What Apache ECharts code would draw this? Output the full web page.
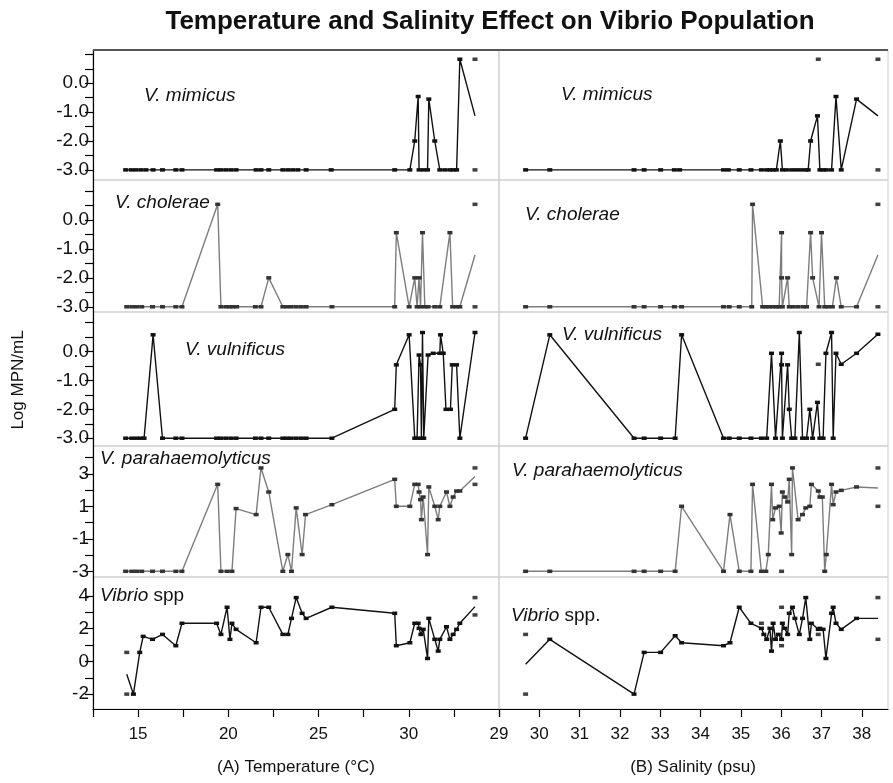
<!DOCTYPE html>
<html><head><meta charset="utf-8">
<script src="https://cdn.jsdelivr.net/npm/echarts@6/dist/echarts.min.js"></script>
<style>html,body{margin:0;padding:0;background:#fff}#c{width:893px;height:783px}</style>
</head><body><div id="c"></div>
<script>
// ---------- DATA ----------
const titleText = 'Temperature and Salinity Effect on Vibrio Population';
const yAxisTitle = 'Log MPN/mL';
const xTitleTemp = '(A) Temperature (°C)';
const xTitleSal = '(B) Salinity (psu)';
const speciesNames = ['V. mimicus', 'V. cholerae', 'V. vulnificus', 'V. parahaemolyticus', 'Vibrio'];

const tempTicks = [12.5, 15, 17.5, 20, 22.5, 25, 27.5, 30, 32.5, 35];
const tempLabels = [15, 20, 25, 30];
const salTicks = [29, 30, 31, 32, 33, 34, 35, 36, 37, 38];
const salLabels = [29, 30, 31, 32, 33, 34, 35, 36, 37, 38];
const yTicksLog = [-3, -2.5, -2, -1.5, -1, -0.5, 0, 0.5, 1];
const yLabelsLog = [-3, -2, -1, 0];
const yTicksPara = [-3, -2, -1, 0, 1, 2, 3, 4];
const yLabelsPara = [-3, -1, 1, 3];
const yTicksSpp = [-2, -1, 0, 1, 2, 3, 4];
const yLabelsSpp = [-2, 0, 2, 4];

// V. mimicus
const mimicusTemp = [[14.31,-3],[14.62,-3],[14.87,-3],[15.15,-3],[15.43,-3],[15.83,-3],[16.35,-3],[17.09,-3],[17.43,-3],[19.35,-3],[19.59,-3],[19.87,-3],[20.15,-3],[20.43,-3],[21.54,-3],[21.81,-3],[22.24,-3],[23.02,-3],[23.30,-3],[23.57,-3],[23.85,-3],[24.31,-3],[25.70,-3],[29.22,-3],[30.06,-3],[30.33,-2],[30.52,-0.46],[30.57,-3],[30.80,-3],[31.04,-3],[31.11,-0.55],[31.44,-2],[31.72,-3],[32.0,-3],[32.28,-3],[32.46,-3],[32.65,-3],[32.83,0.83],[33.67,-1.13]];
const mimicusTempExtra = [[33.67,0.83],[33.67,-3]];
const mimicusSal = [[29.66,-3],[30.26,-3],[32.35,-3],[32.60,-3],[33.01,-3],[33.35,-3],[33.48,-3],[34.57,-3],[34.69,-3],[34.96,-3],[35.25,-3],[35.51,-3],[35.64,-3],[35.72,-3],[35.80,-3],[35.88,-3],[35.98,-2],[36.03,-3],[36.13,-3],[36.26,-3],[36.38,-3],[36.50,-3],[36.61,-3],[36.67,-3],[36.73,-2],[36.90,-1.13],[36.96,-3],[37.04,-3],[37.12,-3],[37.25,-3],[37.36,-0.46],[37.49,-3],[37.87,-0.55],[38.40,-1.13]];
const mimicusSalExtra = [[36.92,0.83],[38.40,0.83],[38.40,-3]];

// V. cholerae
const choleraeTemp = [[14.37,-3],[14.65,-3],[14.91,-3],[15.20,-3],[15.80,-3],[16.35,-3],[17.09,-3],[17.43,-3],[19.41,0.54],[19.59,-3],[19.87,-3],[20.06,-3],[20.24,-3],[20.46,-3],[21.50,-3],[21.81,-3],[22.24,-2],[23.02,-3],[23.24,-3],[23.48,-3],[23.76,-3],[24.04,-3],[24.31,-3],[25.74,-3],[29.22,-3],[29.31,-0.44],[30.02,-3],[30.33,-2],[30.46,-3],[30.57,-2],[30.65,-3],[30.76,-0.44],[30.89,-3],[31.07,-3],[31.44,-3],[31.72,-3],[32.28,-0.44],[32.43,-3],[32.65,-3],[32.83,-3],[33.67,-1.21]];
const choleraeTempExtra = [[33.67,0.54],[33.67,-3]];
const choleraeSal = [[29.66,-3],[30.26,-3],[32.35,-3],[32.60,-3],[33.01,-3],[33.35,-3],[33.53,-3],[34.57,-3],[34.71,-3],[34.96,-3],[35.27,-3],[35.29,0.54],[35.54,-3],[35.62,-3],[35.70,-3],[35.79,-3],[35.88,-3],[35.95,-3],[36.01,-0.44],[36.01,-2],[36.03,-3],[36.16,-2],[36.20,-3],[36.30,-3],[36.42,-3],[36.55,-3],[36.63,-3],[36.73,-0.44],[36.78,-2],[36.94,-3],[37.0,-0.44],[37.08,-3],[37.16,-3],[37.27,-3],[37.37,-2],[37.49,-3],[37.87,-3],[38.40,-1.21]];
const choleraeSalExtra = [[38.40,0.54],[38.40,-3]];

// V. vulnificus
const vulnificusTemp = [[14.31,-3],[14.65,-3],[14.91,-3],[15.15,-3],[15.33,-3],[15.83,0.58],[16.35,-3],[17.09,-3],[17.43,-3],[19.35,-3],[19.59,-3],[19.87,-3],[20.15,-3],[20.43,-3],[21.50,-3],[21.81,-3],[22.24,-3],[23.02,-3],[23.24,-3],[23.48,-3],[23.76,-3],[24.04,-3],[24.31,-3],[25.74,-3],[29.22,-2],[29.31,-0.46],[30.02,0.58],[30.33,-3],[30.46,-3],[30.57,-0.12],[30.65,-0.46],[30.70,-3],[30.76,0.66],[30.83,-3],[31.07,-0.12],[31.35,-0.06],[31.72,-0.06],[31.76,0.58],[31.91,-0.06],[32.06,-2],[32.31,-2],[32.41,-0.46],[32.65,-0.46],[32.83,-3],[33.67,0.66]];
const vulnificusTempExtra = [];
const vulnificusSal = [[29.66,-3],[30.26,0.58],[32.35,-3],[32.60,-3],[33.01,-3],[33.37,-3],[33.53,0.58],[34.57,-3],[34.71,-3],[34.96,-3],[35.25,-3],[35.51,-3],[35.64,-3],[35.76,-0.06],[35.86,-3],[36.01,-0.06],[36.01,-0.46],[36.03,-3],[36.16,-0.46],[36.20,-2],[36.26,-3],[36.34,-3],[36.45,0.66],[36.53,-3],[36.63,-3],[36.71,-2],[36.78,-3],[36.90,-1.76],[36.96,-3],[37.04,-3],[37.11,-0.06],[37.25,0.66],[37.29,-3],[37.36,-0.06],[37.49,-0.44],[37.87,-0.06],[38.40,0.6]];
const vulnificusSalExtra = [[36.92,-0.44]];

// V. parahaemolyticus
const paraTemp = [[14.31,-3],[14.65,-3],[14.91,-3],[15.20,-3],[15.80,-3],[16.35,-3],[17.09,-3],[17.43,-3],[19.41,2.35],[19.59,-3],[19.93,-3],[20.20,-3],[20.43,0.86],[21.54,0.49],[21.81,3.36],[22.24,1.88],[23.02,-3],[23.30,-1.97],[23.50,-3],[23.76,0.90],[24.09,-1.97],[24.28,0.49],[25.74,1.10],[29.22,2.66],[29.31,1.0],[30.06,1.0],[30.33,2.35],[30.52,2.35],[30.57,1.88],[30.65,1.41],[30.70,0.18],[30.80,1.57],[31.04,-1.97],[31.11,2.19],[31.44,1.0],[31.63,0.18],[31.72,1.0],[32.09,1.88],[32.28,1.0],[32.46,1.57],[32.65,1.94],[32.83,1.94],[33.67,2.84]];
const paraTempExtra = [[33.67,3.36],[33.67,2.35]];
const paraSal = [[29.66,-3],[30.26,-3],[32.35,-3],[32.60,-3],[33.01,-3],[33.37,-3],[33.53,1.0],[34.57,-3],[34.73,0.49],[34.96,-3],[35.25,-3],[35.29,2.35],[35.51,-3],[35.62,-3],[35.68,-1.97],[35.76,2.35],[35.79,0.18],[35.86,0.90],[35.95,1.0],[36.00,-0.64],[36.03,1.88],[36.09,1.57],[36.16,1.27],[36.20,2.66],[36.26,-1.97],[36.28,3.36],[36.42,0.18],[36.53,0.49],[36.61,0.90],[36.71,1.0],[36.75,2.35],[36.92,1.94],[36.96,1.57],[37.02,1.57],[37.08,-3],[37.12,-1.97],[37.25,2.35],[37.29,1.10],[37.36,1.88],[37.49,1.98],[37.87,2.19],[38.40,2.13]];
const paraSalExtra = [[36.01,-3],[38.40,3.36],[38.40,1.0]];

// Vibrio spp
const sppTemp = [[14.37,-0.78],[14.74,-2.0],[15.09,0.55],[15.28,1.53],[15.80,1.35],[16.35,1.65],[17.09,0.96],[17.43,2.33],[19.35,2.33],[19.59,1.65],[19.93,3.31],[20.09,1.35],[20.20,2.33],[20.43,1.96],[21.54,1.14],[21.81,3.31],[22.24,3.31],[23.02,1.65],[23.30,1.65],[23.50,2.63],[23.76,3.90],[24.09,2.94],[24.31,2.63],[25.74,3.31],[29.22,2.94],[29.31,0.96],[30.06,1.14],[30.33,2.33],[30.52,2.33],[30.57,2.02],[30.67,1.65],[30.80,1.96],[31.04,0.18],[31.11,2.63],[31.44,1.35],[31.63,0.63],[31.72,1.35],[32.09,2.12],[32.28,1.35],[32.46,1.65],[32.65,1.96],[32.83,2.33],[33.67,3.35]];
const sppTempExtra = [[14.37,0.55],[14.37,-2.0],[33.67,3.90],[33.67,2.84]];
const sppSal = [[29.66,-0.18],[30.26,1.35],[32.35,-2.0],[32.60,0.55],[33.01,0.55],[33.37,1.57],[33.53,1.14],[34.57,0.96],[34.73,1.14],[34.96,3.31],[35.25,2.33],[35.51,2.02],[35.57,1.65],[35.64,1.35],[35.72,2.02],[35.76,0.63],[35.80,2.33],[35.86,1.35],[35.93,1.65],[36.01,1.35],[36.03,2.33],[36.09,2.02],[36.16,1.65],[36.20,2.94],[36.28,3.31],[36.34,2.63],[36.45,1.65],[36.53,2.63],[36.61,3.90],[36.71,1.35],[36.75,2.33],[36.92,1.96],[36.96,2.02],[37.04,1.96],[37.11,0.18],[37.25,2.94],[37.29,3.31],[37.36,2.33],[37.49,1.96],[37.87,2.63],[38.40,2.63]];
const sppSalExtra = [[29.66,1.65],[29.66,-2.0],[35.51,2.33],[36.01,3.31],[36.01,0.96],[36.92,1.65],[38.40,3.90],[38.40,1.35]];

// ---------- LAYOUT / STYLE ----------
const FONT = '"Liberation Sans", Arial, Helvetica, sans-serif';
const NARROW = '"Liberation Sans Narrow", "Arial Narrow", "Liberation Sans", Arial, sans-serif';
const colL = {left: 93, width: 406};
const colR = {left: 499, width: 389};
const rows = [
  {top: 50,  height: 130, min: -3.35, max: 1.15, ticks: yTicksLog,  labels: yLabelsLog,  fmt: v => v.toFixed(1), line: '#111', mark: '#111'},
  {top: 180, height: 132, min: -3.18, max: 1.38, ticks: yTicksLog,  labels: yLabelsLog,  fmt: v => v.toFixed(1), line: '#7d7d7d', mark: '#333'},
  {top: 312, height: 134, min: -3.27, max: 1.37, ticks: yTicksLog,  labels: yLabelsLog,  fmt: v => v.toFixed(1), line: '#111', mark: '#111'},
  {top: 446, height: 131, min: -3.35, max: 4.71, ticks: yTicksPara, labels: yLabelsPara, fmt: v => String(v), line: '#7d7d7d', mark: '#333'},
  {top: 577, height: 132, min: -2.91, max: 5.16, ticks: yTicksSpp,  labels: yLabelsSpp,  fmt: v => String(v), line: '#111', mark: '#111'}
];
const panels = [
  [{d: mimicusTemp, x: mimicusTempExtra, bareFirst: false, bareLast: true},  {d: mimicusSal, x: mimicusSalExtra, bareFirst: false, bareLast: true}],
  [{d: choleraeTemp, x: choleraeTempExtra, bareFirst: false, bareLast: true}, {d: choleraeSal, x: choleraeSalExtra, bareFirst: false, bareLast: true}],
  [{d: vulnificusTemp, x: vulnificusTempExtra, bareFirst: false, bareLast: false}, {d: vulnificusSal, x: vulnificusSalExtra, bareFirst: false, bareLast: false}],
  [{d: paraTemp, x: paraTempExtra, bareFirst: false, bareLast: true}, {d: paraSal, x: paraSalExtra, bareFirst: false, bareLast: true}],
  [{d: sppTemp, x: sppTempExtra, bareFirst: true, bareLast: true}, {d: sppSal, x: sppSalExtra, bareFirst: true, bareLast: true}]
];
const labelPos = [
  [[144, 96], [561, 95]],
  [[115, 203], [525, 215]],
  [[185, 350], [562, 335]],
  [[100, 459], [512, 471]],
  [[100, 596], [511, 616]]
];

const grid = [], xAxis = [], yAxis = [], series = [], graphic = [];
const MARK = [5, 3.5];

rows.forEach((r, ri) => {
  [colL, colR].forEach((c, ci) => {
    const gi = grid.length;
    grid.push({left: c.left, top: r.top, width: c.width, height: r.height, show: true,
      borderColor: '#cfcfcf', borderWidth: 1, backgroundColor: 'transparent', containLabel: false});
    const bottom = ri === rows.length - 1;
    const isTemp = ci === 0;
    xAxis.push({
      type: 'value', gridIndex: gi,
      min: isTemp ? 12.5 : 29, max: isTemp ? 35 : 38.65,
      show: bottom,
      axisLine: {show: true, onZero: false, lineStyle: {color: '#000', width: 1.2}},
      axisTick: {show: true, length: 8, lineStyle: {color: '#000', width: 1.2}, customValues: isTemp ? tempTicks : salTicks},
      axisLabel: {show: true, customValues: isTemp ? tempLabels : salLabels, fontSize: 17, color: '#111', fontFamily: NARROW, margin: 17},
      splitLine: {show: false}
    });
    yAxis.push({
      type: 'value', gridIndex: gi, min: r.min, max: r.max,
      show: ci === 0,
      axisLine: {show: true, onZero: false, lineStyle: {color: '#000', width: 1.2}},
      axisTick: {show: true, length: 8, lineStyle: {color: '#000', width: 1.2}, customValues: r.ticks},
      axisLabel: {show: true, customValues: r.labels, formatter: r.fmt, fontSize: 19, color: '#111', fontFamily: FONT, margin: 4},
      splitLine: {show: false}
    });
    const p = panels[ri][ci];
    const n = p.d.length;
    const data = p.d.map((pt, i) => ((i === 0 && p.bareFirst) || (i === n - 1 && p.bareLast)) ? {value: pt, symbol: 'none'} : pt);
    series.push({
      type: 'line', xAxisIndex: gi, yAxisIndex: gi, data: data,
      symbol: 'rect', symbolSize: MARK, showSymbol: true,
      lineStyle: {color: r.line, width: 1.4},
      itemStyle: {color: r.mark},
      animation: false, silent: true, z: 3
    });
    if (p.x.length) {
      series.push({
        type: 'scatter', xAxisIndex: gi, yAxisIndex: gi, data: p.x,
        symbol: 'rect', symbolSize: MARK, itemStyle: {color: '#111'}, animation: false, silent: true, z: 4
      });
    }
    const [lx, ly] = labelPos[ri][ci];
    let txt, rich = {i: {fontStyle: 'italic', fontSize: 19, fontFamily: FONT, fill: '#111'}, n: {fontSize: 19, fontFamily: FONT, fill: '#111'}};
    if (ri === 4) txt = ci === 0 ? '{i|Vibrio}{n| spp}' : '{i|Vibrio}{n| spp.}';
    else txt = '{i|' + speciesNames[ri] + '}';
    graphic.push({type: 'text', x: lx, y: ly, z: 10, style: {text: txt, rich: rich, verticalAlign: 'middle', align: 'left'}});
  });
});

graphic.push({type: 'line', z: 5, shape: {x1: 93, y1: 50, x2: 888, y2: 50}, style: {stroke: '#555', lineWidth: 2}});
graphic.push({type: 'text', x: 490, y: 22, style: {text: titleText, fontSize: 26, fontWeight: 'bold', fontFamily: FONT, fill: '#111', align: 'center', verticalAlign: 'middle'}});
graphic.push({type: 'text', x: 18, y: 380, rotation: Math.PI / 2, style: {text: yAxisTitle, fontSize: 17, fontFamily: FONT, fill: '#111', align: 'center', verticalAlign: 'middle'}});
graphic.push({type: 'text', x: 296, y: 767, style: {text: xTitleTemp, fontSize: 17, fontFamily: NARROW, fill: '#111', align: 'center', verticalAlign: 'middle'}});
graphic.push({type: 'text', x: 693, y: 767, style: {text: xTitleSal, fontSize: 17, fontFamily: NARROW, fill: '#111', align: 'center', verticalAlign: 'middle'}});

const chart = echarts.init(document.getElementById('c'), null, {renderer: 'canvas'});
chart.setOption({animation: false, backgroundColor: '#fff', grid, xAxis, yAxis, series, graphic});
</script></body></html>
